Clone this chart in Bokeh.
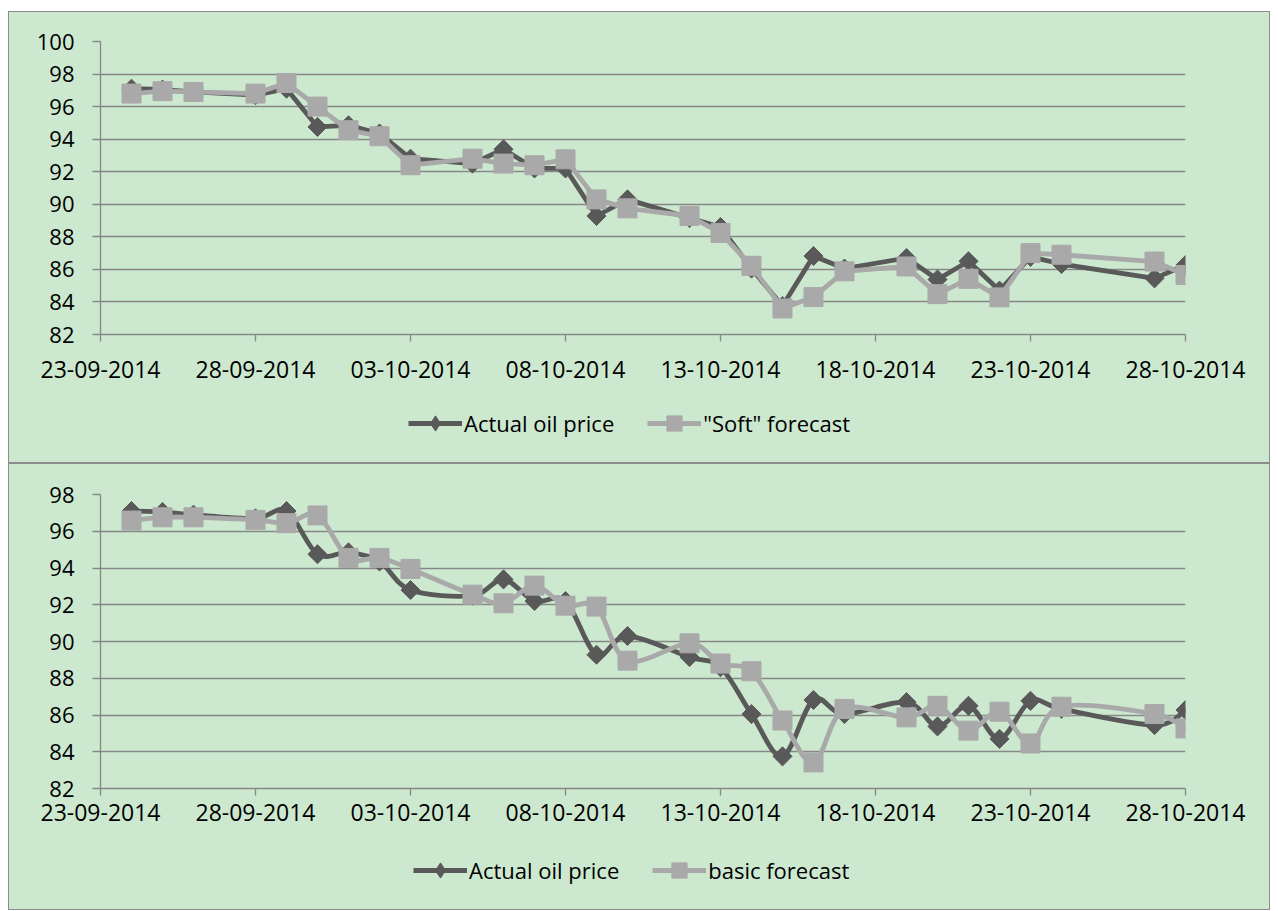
import pandas as pd
from bokeh.plotting import figure
from bokeh.models import (ColumnDataSource, FixedTicker, DatetimeTickFormatter, Legend,
                          LegendItem, Range1d, Spacer)
from bokeh.layouts import column, row
from bokeh.embed import file_html
from bokeh.resources import INLINE

# ---------------- data ----------------
dates = ["2014-09-24", "2014-09-25", "2014-09-26", "2014-09-28", "2014-09-29", "2014-09-30",
         "2014-10-01", "2014-10-02", "2014-10-03", "2014-10-05", "2014-10-06", "2014-10-07",
         "2014-10-08", "2014-10-09", "2014-10-10", "2014-10-12", "2014-10-13", "2014-10-14",
         "2014-10-15", "2014-10-16", "2014-10-17", "2014-10-19", "2014-10-20", "2014-10-21",
         "2014-10-22", "2014-10-23", "2014-10-24", "2014-10-27", "2014-10-28"]

actual = [97.10, 97.05, 96.90, 96.70, 97.10, 94.75, 94.85, 94.35, 92.80, 92.50, 93.38, 92.20,
          92.20, 89.28, 90.30, 89.15, 88.60, 86.05, 83.75, 86.82, 86.05, 86.70, 85.38, 86.50,
          84.70, 86.77, 86.33, 85.45, 86.27]

soft = [96.80, 96.95, 96.90, 96.80, 97.45, 96.00, 94.55, 94.18, 92.40, 92.80, 92.50, 92.40,
        92.76, 90.30, 89.75, 89.28, 88.24, 86.22, 83.60, 84.30, 85.88, 86.18, 84.48, 85.42,
        84.28, 87.00, 86.90, 86.48, 85.66]

basic = [96.58, 96.76, 96.76, 96.62, 96.44, 96.86, 94.55, 94.55, 93.95, 92.55, 92.08, 93.04,
         91.95, 91.90, 88.96, 89.90, 88.80, 88.38, 85.70, 83.42, 86.33, 85.87, 86.50, 85.15,
         86.18, 84.45, 86.45, 86.05, 85.27]

x_ticks = ["2014-09-23", "2014-09-28", "2014-10-03", "2014-10-08", "2014-10-13",
           "2014-10-18", "2014-10-23", "2014-10-28"]

top_labels = ["Actual oil price", '"Soft" forecast']
bottom_labels = ["Actual oil price", "basic forecast"]

# ---------------- styles ----------------
FONT = "Open Sans"
BG = "#cce8cf"
DARK = "#595959"
LIGHT = "#a9a9a9"
GRID = "#878787"
W = 1262
NAN = float("nan")


def ms(s):
    return pd.Timestamp(s).value / 1e6


xs = [ms(d) for d in dates]
tick_ms = [ms(d) for d in x_ticks]


def smooth(xv, yv):
    n = len(xv)
    out = {k: [] for k in ("x0", "y0", "x1", "y1", "cx0", "cy0", "cx1", "cy1")}
    for i in range(n - 1):
        a = i - 1 if i > 0 else i
        b = i + 2 if i + 2 < n else i + 1
        out["x0"].append(xv[i]); out["y0"].append(yv[i])
        out["x1"].append(xv[i + 1]); out["y1"].append(yv[i + 1])
        out["cx0"].append(xv[i] + (xv[i + 1] - xv[a]) / 6)
        out["cy0"].append(yv[i] + (yv[i + 1] - yv[a]) / 6)
        out["cx1"].append(xv[i + 1] - (xv[b] - xv[i]) / 6)
        out["cy1"].append(yv[i + 1] - (yv[b] - yv[i]) / 6)
    return out


def make_plot(height, top_border, frame_h, ymax, forecast, smoothed, label_standoff_x):
    p = figure(width=W, height=height, x_axis_type="datetime",
               output_backend="svg", toolbar_location=None,
               x_range=Range1d(tick_ms[0], tick_ms[-1]), y_range=Range1d(82, ymax),
               min_border_left=92, min_border_right=85, min_border_top=top_border,
               min_border_bottom=height - top_border - frame_h,
               background_fill_alpha=0, border_fill_alpha=0, outline_line_color=None)
    p.xgrid.visible = False
    p.ygrid.grid_line_color = GRID
    p.ygrid.grid_line_width = 1.3
    p.ygrid.ticker = FixedTicker(ticks=list(range(82, ymax + 1, 2)))

    p.yaxis.ticker = FixedTicker(ticks=list(range(82, ymax + 1, 2)), minor_ticks=[])
    p.xaxis.ticker = FixedTicker(ticks=tick_ms, minor_ticks=[])
    fmt = "%d-%m-%Y"
    p.xaxis.formatter = DatetimeTickFormatter(days=fmt, months=fmt, years=fmt, hours=fmt,
                                              hourmin=fmt, minutes=fmt, minsec=fmt,
                                              seconds=fmt, milliseconds=fmt,
                                              microseconds=fmt)
    for ax in (p.xaxis[0], p.yaxis[0]):
        ax.axis_line_color = GRID
        ax.axis_line_width = 1.3
        ax.major_tick_line_color = GRID
        ax.major_tick_line_width = 1.3
        ax.major_tick_in = 0
        ax.major_label_text_font = FONT
        ax.major_label_text_color = "#000000"
    p.yaxis.major_label_text_font_size = "22px"
    p.xaxis.major_label_text_font_size = "23px"
    p.yaxis.major_tick_out = 8
    p.yaxis.major_label_standoff = 18
    p.xaxis.major_tick_out = 7
    p.xaxis.major_label_standoff = label_standoff_x

    if smoothed:
        p.bezier("x0", "y0", "x1", "y1", "cx0", "cy0", "cx1", "cy1",
                 source=ColumnDataSource(smooth(xs, actual)),
                 line_color=DARK, line_width=4.8, line_cap="round")
    else:
        p.line(xs, actual, line_color=DARK, line_width=4.8, line_join="round")
    p.scatter(xs, actual, marker="square", angle=0.785398, size=13.5,
              fill_color=DARK, line_color=DARK)
    if smoothed:
        p.bezier("x0", "y0", "x1", "y1", "cx0", "cy0", "cx1", "cy1",
                 source=ColumnDataSource(smooth(xs, forecast)),
                 line_color=LIGHT, line_width=4.8, line_cap="round")
    else:
        p.line(xs, forecast, line_color=LIGHT, line_width=4.8, line_join="round")
    p.scatter(xs, forecast, marker="square", size=19, fill_color=LIGHT, line_color=LIGHT)
    return p


def make_legend(height, labels, loc):
    q = figure(width=W, height=height, output_backend="svg", toolbar_location=None,
               x_range=Range1d(0, 1), y_range=Range1d(0, 1),
               x_axis_location=None, y_axis_location=None,
               min_border=0, min_border_left=0, min_border_right=0,
               min_border_top=0, min_border_bottom=0,
               background_fill_alpha=0, border_fill_alpha=0, outline_line_color=None)
    q.xgrid.visible = False
    q.ygrid.visible = False
    # legend-only renderers: a single NaN row so the legend swatch is drawn, nothing plotted
    l1 = q.line([NAN], [NAN], line_color=DARK, line_width=4.8)
    m1 = q.scatter([NAN], [NAN], marker="diamond", size=15,
                   fill_color=DARK, line_color=DARK)
    l2 = q.line([NAN], [NAN], line_color=LIGHT, line_width=4.8)
    m2 = q.scatter([NAN], [NAN], marker="square", size=15, fill_color=LIGHT, line_color=LIGHT)
    legend = Legend(items=[LegendItem(label=labels[0], renderers=[l1, m1]),
                           LegendItem(label=labels[1], renderers=[l2, m2])],
                    location=loc, orientation="horizontal",
                    glyph_width=54, glyph_height=38, label_standoff=2, spacing=33,
                    padding=0, margin=0, border_line_alpha=0, background_fill_alpha=0,
                    label_text_font=FONT, label_text_font_size="22px",
                    label_text_color="#000000", label_height=24)
    q.add_layout(legend)
    return q


BOX = {"outline": "1.5px solid #8c8c8c", "outline-offset": "-1.5px",
       "background-color": BG}

p1 = make_plot(385, 30, 293, 100, soft, False, 19)
g1 = make_legend(67, top_labels, (308, 21))
p2 = make_plot(372, 31, 294, 98, basic, True, 8)
g2 = make_legend(75, bottom_labels, (313, 21))

box1 = column(p1, g1, styles=BOX)
box2 = column(p2, g2, styles=BOX)
layout = row(Spacer(width=8), column(Spacer(height=11), box1, box2))
open("out.html", "w").write(file_html(layout, INLINE))
